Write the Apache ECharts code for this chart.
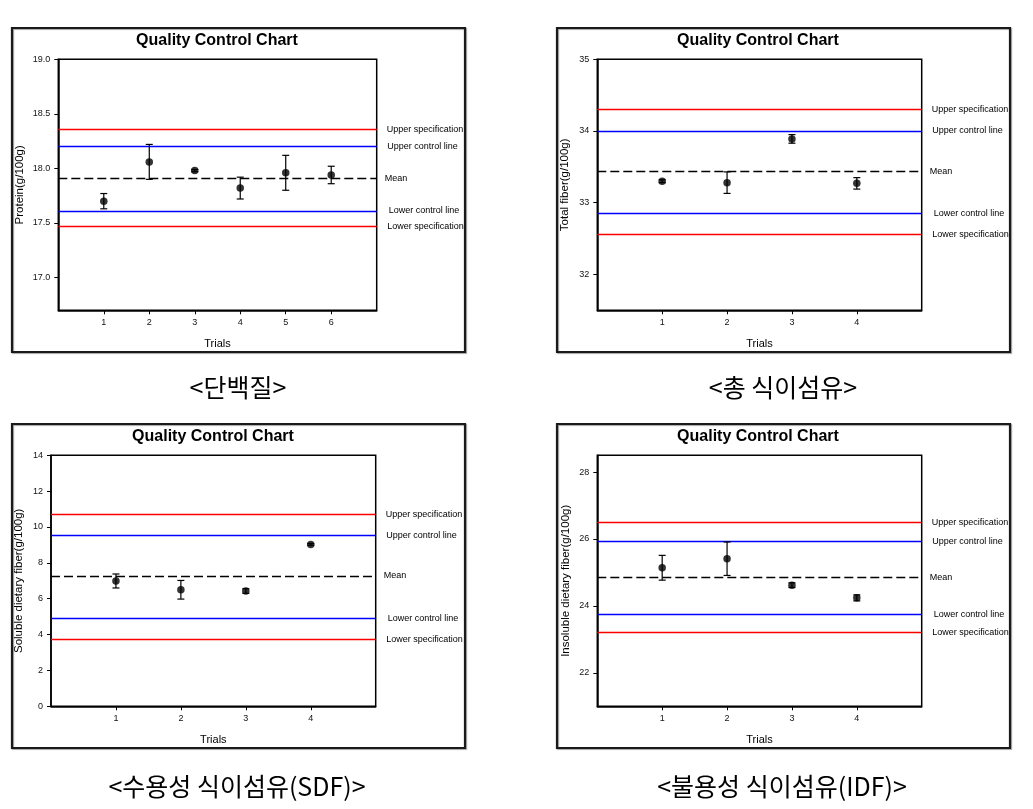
<!DOCTYPE html>
<html>
<head>
<meta charset="utf-8">
<script src="https://cdn.jsdelivr.net/npm/echarts@6/dist/echarts.min.js"></script>
<style>
html,body{margin:0;padding:0;background:#fff;}
#chart{width:1033px;height:809px;}
</style>
</head>
<body>
<div id="chart"></div>
<script>
// ---------- DATA ----------
const limitNames = ['Upper specification', 'Upper control line', 'Mean', 'Lower control line', 'Lower specification'];

const proteinTrials = [1, 2, 3, 4, 5, 6];
const proteinValues = [17.70, 18.06, 17.98, 17.82, 17.96, 17.94];
const proteinErrors = [0.07, 0.16, 0.01, 0.10, 0.16, 0.08];
const proteinLimits = [18.36, 18.20, 17.91, 17.61, 17.47];
const proteinTicks = [17.0, 17.5, 18.0, 18.5, 19.0];

const totalTrials = [1, 2, 3, 4];
const totalValues = [33.30, 33.28, 33.89, 33.27];
const totalErrors = [0.02, 0.15, 0.06, 0.08];
const totalLimits = [34.30, 34.00, 33.44, 32.85, 32.56];
const totalTicks = [32, 33, 34, 35];

const sdfTrials = [1, 2, 3, 4];
const sdfValues = [6.99, 6.50, 6.43, 9.03];
const sdfErrors = [0.39, 0.52, 0.13, 0.05];
const sdfLimits = [10.70, 9.54, 7.27, 4.91, 3.74];
const sdfTicks = [0, 2, 4, 6, 8, 10, 12, 14];

const idfTrials = [1, 2, 3, 4];
const idfValues = [25.14, 25.41, 24.62, 24.24];
const idfErrors = [0.37, 0.50, 0.07, 0.09];
const idfLimits = [26.50, 25.93, 24.86, 23.74, 23.20];
const idfTicks = [22, 24, 26, 28];

const chartTitle = 'Quality Control Chart';
const xName = 'Trials';
const captions = ['<단백질>', '<총 식이섬유>', '<수용성 식이섬유(SDF)>', '<불용성 식이섬유(IDF)>'];

// ---------- LAYOUT ----------
const panels = [
  { name: 'Protein(g/100g)', trials: proteinTrials, values: proteinValues, errors: proteinErrors, limits: proteinLimits, ticks: proteinTicks,
    yMin: 16.7, yMax: 19.0, xMax: 7, dec: 1,
    grid: { left: 58.3, top: 59.3, width: 318.4, height: 251 }, nameGap: 32,
    box: [12, 28, 453, 324], title: [217, 41], caption: [238, 387] },
  { name: 'Total fiber(g/100g)', trials: totalTrials, values: totalValues, errors: totalErrors, limits: totalLimits, ticks: totalTicks,
    yMin: 31.5, yMax: 35, xMax: 5, dec: 0,
    grid: { left: 597.3, top: 59.3, width: 324.4, height: 251 }, nameGap: 26,
    box: [557, 28, 453, 324], title: [758, 41], caption: [783, 387] },
  { name: 'Soluble dietary fiber(g/100g)', trials: sdfTrials, values: sdfValues, errors: sdfErrors, limits: sdfLimits, ticks: sdfTicks,
    yMin: 0, yMax: 14, xMax: 5, dec: 0,
    grid: { left: 51, top: 455.3, width: 324.7, height: 251 }, nameGap: 26,
    box: [12, 424, 453, 324], title: [213, 437], caption: [237, 786] },
  { name: 'Insoluble dietary fiber(g/100g)', trials: idfTrials, values: idfValues, errors: idfErrors, limits: idfLimits, ticks: idfTicks,
    yMin: 21, yMax: 28.5, xMax: 5, dec: 0,
    grid: { left: 597.3, top: 455.3, width: 324.4, height: 251 }, nameGap: 25.6,
    box: [557, 424, 453, 324], title: [758, 437], caption: [782, 786] }
];

const limitStyles = [
  { color: '#ff0000', type: 'solid', dist: 10, pad: [0, 0, 5, 0] },
  { color: '#0000ff', type: 'solid', dist: 10.5, pad: [0, 0, 0, 0] },
  { color: '#000000', type: [9, 4], dist: 8, pad: [0, 0, 1, 0] },
  { color: '#0000ff', type: 'solid', dist: 12, pad: [0, 0, 0, 0] },
  { color: '#ff0000', type: 'solid', dist: 10.5, pad: [5, 0, 0, 0] }
];

const FONT = 'Arial, "Liberation Sans", sans-serif';
const grids = [], xAxes = [], yAxes = [], series = [], graphics = [];

panels.forEach((p, i) => {
  grids.push(Object.assign({ show: true, borderColor: '#000', borderWidth: 1.5, backgroundColor: '#fff', containLabel: false }, p.grid));
  xAxes.push({
    type: 'value', gridIndex: i, min: 0, max: p.xMax,
    name: xName, nameLocation: 'middle', nameGap: 28,
    nameTextStyle: { fontSize: 11, color: '#000', fontFamily: FONT },
    axisLine: { show: true, lineStyle: { color: '#000', width: 1.5 } },
    axisTick: { show: true, inside: false, length: 4, lineStyle: { color: '#000' }, customValues: p.trials },
    axisLabel: { show: true, fontSize: 9, color: '#111', fontFamily: FONT, margin: 8, customValues: p.trials },
    splitLine: { show: false }
  });
  yAxes.push({
    type: 'value', gridIndex: i, min: p.yMin, max: p.yMax,
    name: p.name, nameLocation: 'middle', nameGap: p.nameGap, nameRotate: 90,
    nameTextStyle: { fontSize: 11.5, color: '#000', fontFamily: FONT },
    axisLine: { show: true, lineStyle: { color: '#000', width: 1.5 } },
    axisTick: { show: true, inside: false, length: 4, lineStyle: { color: '#000' }, customValues: p.ticks },
    axisLabel: { show: true, fontSize: 9, color: '#111', fontFamily: FONT, margin: 8, customValues: p.ticks,
      formatter: v => Number(v).toFixed(p.dec) },
    splitLine: { show: false }
  });

  const pts = p.trials.map((t, k) => [t, p.values[k], p.errors[k]]);

  series.push({
    type: 'custom', xAxisIndex: i, yAxisIndex: i, data: pts, silent: true,
    renderItem: (params, api) => {
      const x = api.value(0), y = api.value(1), e = api.value(2);
      const top = api.coord([x, y + e]);
      const bot = api.coord([x, y - e]);
      const hw = 3.5;
      const st = { stroke: '#000', lineWidth: 1.2 };
      return { type: 'group', children: [
        { type: 'line', shape: { x1: top[0], y1: top[1], x2: bot[0], y2: bot[1] }, style: st },
        { type: 'line', shape: { x1: top[0] - hw, y1: top[1], x2: top[0] + hw, y2: top[1] }, style: st },
        { type: 'line', shape: { x1: bot[0] - hw, y1: bot[1], x2: bot[0] + hw, y2: bot[1] }, style: st }
      ]};
    },
    z: 3
  });

  series.push({
    type: 'scatter', xAxisIndex: i, yAxisIndex: i, data: pts.map(d => [d[0], d[1]]),
    symbol: 'circle', symbolSize: 7.5, itemStyle: { color: '#000' }, silent: true, z: 4,
    markLine: {
      silent: true, symbol: ['none', 'none'], animation: false, z: 2,
      data: p.limits.map((v, k) => ({
        yAxis: v,
        lineStyle: { color: limitStyles[k].color, type: limitStyles[k].type, width: 1.4 },
        label: { show: true, position: 'end', distance: limitStyles[k].dist, formatter: limitNames[k],
          fontSize: 9, color: '#000', fontFamily: FONT, padding: limitStyles[k].pad }
      }))
    }
  });

  graphics.push({
    type: 'rect', shape: { x: p.box[0], y: p.box[1], width: p.box[2], height: p.box[3] },
    style: { fill: 'none', stroke: '#1a1a1a', lineWidth: 2.2, shadowColor: 'rgba(0,0,0,0.35)', shadowOffsetX: 1, shadowOffsetY: 1, shadowBlur: 1 },
    z: 100
  });
  graphics.push({
    type: 'text', x: p.title[0], y: p.title[1],
    style: { text: chartTitle, font: 'bold 16px ' + FONT, fill: '#000', textAlign: 'center', textVerticalAlign: 'middle' }, z: 100
  });
  graphics.push({
    type: 'text', x: p.caption[0], y: p.caption[1],
    style: { text: captions[i], font: '25px "Noto Sans CJK KR", sans-serif', fill: '#000', textAlign: 'center', textVerticalAlign: 'middle' }, z: 100
  });
});

const chart = echarts.init(document.getElementById('chart'), null, { renderer: 'canvas' });
chart.setOption({
  animation: false,
  backgroundColor: '#fff',
  grid: grids,
  xAxis: xAxes,
  yAxis: yAxes,
  series: series,
  graphic: { elements: graphics }
});
</script>
</body>
</html>
